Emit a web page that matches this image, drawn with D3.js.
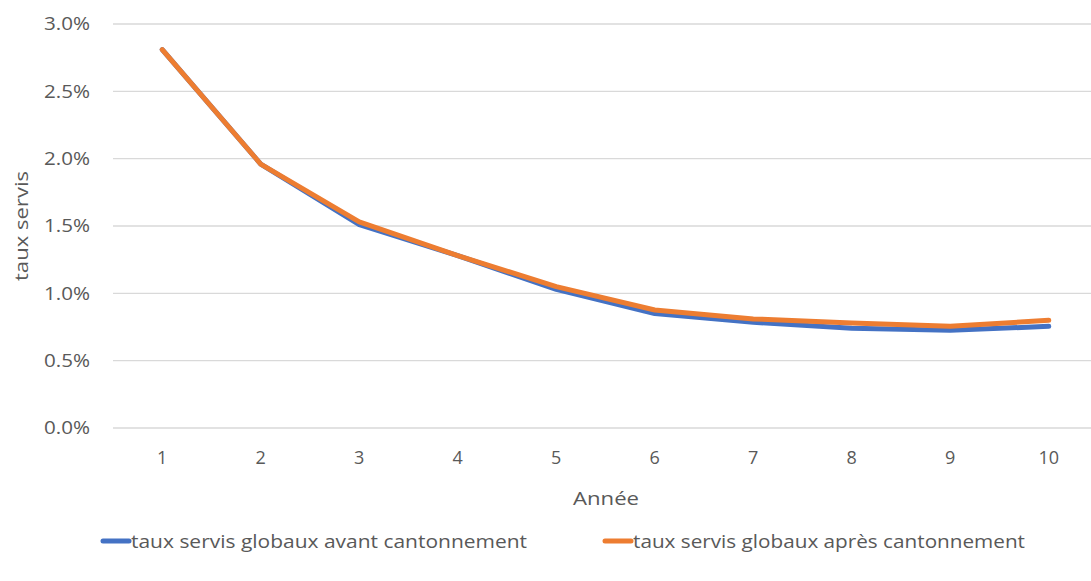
<!DOCTYPE html>
<html>
<head>
<meta charset="utf-8">
<script src="https://cdn.jsdelivr.net/npm/d3@7"></script>
<style>
  html, body { margin: 0; padding: 0; background: #fff; }
  svg { display: block; }
  text { font-family: "Open Sans", "Liberation Sans", sans-serif; fill: #595959; }
</style>
</head>
<body>
<svg id="chart" width="1091" height="581"></svg>
<script>
// Années et taux servis (en %)
const years = [1, 2, 3, 4, 5, 6, 7, 8, 9, 10];
const avantCantonnement = [2.81, 1.96, 1.51, 1.28, 1.03, 0.85, 0.785, 0.74, 0.725, 0.755];
const apresCantonnement = [2.81, 1.96, 1.53, 1.28, 1.05, 0.876, 0.81, 0.78, 0.755, 0.80];
const yTicks = [0, 0.5, 1.0, 1.5, 2.0, 2.5, 3.0];
const seriesNames = ["taux servis globaux avant cantonnement", "taux servis globaux après cantonnement"];
const seriesColors = ["#4472C4", "#ED7D31"];

const svg = d3.select("#chart");
const plot = { left: 113, right: 1098, top: 24, bottom: 428 };
const labelFont = "'Open Sans', 'Liberation Sans', sans-serif";

const x = d3.scaleBand().domain(years).range([plot.left, plot.right]);
const y = d3.scaleLinear().domain([0, 3]).range([plot.bottom, plot.top]);

// Quadrillage horizontal
svg.append("g")
  .selectAll("line")
  .data(yTicks)
  .join("line")
  .attr("x1", plot.left).attr("x2", plot.right)
  .attr("y1", d => y(d)).attr("y2", d => y(d))
  .attr("stroke", "#d9d9d9").attr("stroke-width", 1.3);

// Axe vertical (étiquettes seulement)
const yAxis = svg.append("g")
  .attr("transform", `translate(${plot.left},0)`)
  .call(d3.axisLeft(y).tickValues(yTicks).tickFormat(d => d.toFixed(1) + "%").tickSize(0).tickPadding(23));
yAxis.select(".domain").remove();
yAxis.selectAll("text")
  .style("font-size", "18px").style("font-family", labelFont).attr("fill", "#595959")
  .attr("textLength", 46).attr("lengthAdjust", "spacingAndGlyphs");

// Axe horizontal (étiquettes seulement)
const xAxis = svg.append("g")
  .attr("transform", `translate(0,${plot.bottom})`)
  .call(d3.axisBottom(x).tickSize(0).tickPadding(23));
xAxis.select(".domain").remove();
xAxis.selectAll("text")
  .style("font-size", "18px").style("font-family", labelFont).attr("fill", "#595959");

// Titres des axes
svg.append("text")
  .attr("transform", `translate(28,${y(1.5)}) rotate(-90)`)
  .attr("text-anchor", "middle")
  .style("font-size", "19px")
  .attr("textLength", 110).attr("lengthAdjust", "spacingAndGlyphs")
  .text("taux servis");

svg.append("text")
  .attr("x", 606).attr("y", 505)
  .attr("text-anchor", "middle")
  .style("font-size", "19px")
  .attr("textLength", 66).attr("lengthAdjust", "spacingAndGlyphs")
  .text("Année");

// Courbes
const line = d3.line()
  .x((d, i) => x(years[i]) + x.bandwidth() / 2)
  .y(d => y(d));

[avantCantonnement, apresCantonnement].forEach((values, i) => {
  svg.append("path")
    .datum(values)
    .attr("fill", "none")
    .attr("stroke", seriesColors[i])
    .attr("stroke-width", 5)
    .attr("stroke-linejoin", "round")
    .attr("stroke-linecap", "round")
    .attr("d", line);
});

// Légende
const legendY = 541;
const legendItems = [
  { x1: 103, x2: 129, tx: 131, tw: 396 },
  { x1: 605, x2: 631, tx: 633, tw: 392 }
];
legendItems.forEach((it, i) => {
  svg.append("line")
    .attr("x1", it.x1).attr("x2", it.x2)
    .attr("y1", legendY).attr("y2", legendY)
    .attr("stroke", seriesColors[i])
    .attr("stroke-width", 5)
    .attr("stroke-linecap", "round");
  svg.append("text")
    .attr("x", it.tx).attr("y", legendY + 7)
    .attr("textLength", it.tw)
    .attr("lengthAdjust", "spacingAndGlyphs")
    .style("font-size", "19px")
    .text(seriesNames[i]);
});
</script>
</body>
</html>
